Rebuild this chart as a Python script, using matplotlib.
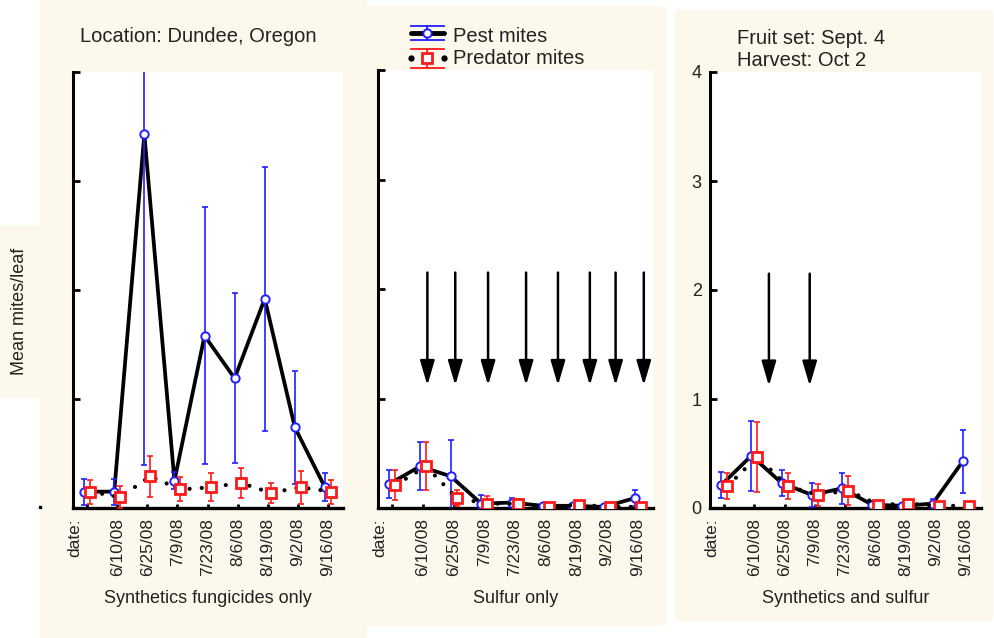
import matplotlib
matplotlib.use("Agg")
import matplotlib.pyplot as plt
import matplotlib.patches as mpatches
from matplotlib.lines import Line2D
import numpy as np

plt.rcParams["font.family"] = ["Liberation Sans", "DejaVu Sans"]

# sampling dates (first sample is the pre-treatment count)
date_labels = ["6/10/08", "6/25/08", "7/9/08", "7/23/08", "8/6/08",
               "8/19/08", "9/2/08", "9/16/08"]
n_samples = 9

# Synthetics fungicides only
pest_synth = [0.15, 0.15, 3.43, 0.25, 1.58, 1.19, 1.92, 0.74, 0.19]
pest_synth_err = [0.12, 0.12, 3.04, 0.08, 1.18, 0.78, 1.21, 0.52, 0.13]
pred_synth = [0.15, 0.10, 0.29, 0.17, 0.19, 0.23, 0.14, 0.19, 0.15]
pred_synth_err = [0.11, 0.10, 0.19, 0.11, 0.13, 0.14, 0.09, 0.15, 0.11]

# Sulfur only
pest_sulf = [0.22, 0.38, 0.29, 0.04, 0.05, 0.02, 0.02, 0.01, 0.09]
pest_sulf_err = [0.13, 0.22, 0.33, 0.08, 0.04, 0.01, 0.01, 0.01, 0.07]
pred_sulf = [0.21, 0.38, 0.09, 0.04, 0.04, 0.01, 0.03, 0.01, 0.01]
pred_sulf_err = [0.14, 0.22, 0.07, 0.07, 0.04, 0.01, 0.02, 0.01, 0.01]

# Synthetics and sulfur
pest_both = [0.21, 0.48, 0.23, 0.12, 0.18, 0.03, 0.02, 0.04, 0.43]
pest_both_err = [0.12, 0.32, 0.12, 0.11, 0.14, 0.03, 0.01, 0.04, 0.29]
pred_both = [0.20, 0.47, 0.20, 0.12, 0.16, 0.03, 0.04, 0.02, 0.02]
pred_both_err = [0.12, 0.32, 0.12, 0.10, 0.13, 0.02, 0.01, 0.01, 0.01]

# sulfur applications (arrows), in sample-index units
spray_sulf = [1.14, 2.05, 3.12, 4.36, 5.40, 6.44, 7.28, 8.20]
spray_both = [1.48, 2.83]
arrow_top, arrow_tip = 2.15, 1.12

CREAM = "#fdf8ec"
BLUE = "#1f1fff"
RED = "#ff1a1a"
TXT = "#222222"
W, H = 995, 638


def px_rect(fig, x0, y0, x1, y1):
    # cream backing panel given in pixel coords (origin top-left)
    r = mpatches.Rectangle((x0 / W, 1 - y1 / H), (x1 - x0) / W, (y1 - y0) / H,
                           transform=fig.transFigure, facecolor=CREAM,
                           edgecolor="none", zorder=-10)
    fig.patches.append(r)


def px_axes(fig, x0, y0, x1, y1):
    return fig.add_axes([x0 / W, 1 - y1 / H, (x1 - x0) / W, (y1 - y0) / H])


def draw_panel(ax, pest, pest_err, pred, pred_err, xlabel, show_yticks=False):
    x = np.arange(n_samples)
    xp = x - 0.1
    xq = x + 0.1
    # pest mites
    ax.plot(xp, pest, color="black", lw=2.7, zorder=2)
    ax.errorbar(xp, pest, yerr=pest_err, fmt="none", ecolor=BLUE, elinewidth=1.2,
                capsize=2.2, capthick=1.2, zorder=3)
    ax.plot(xp, pest, "o", ms=6, mfc="white", mec=BLUE, mew=1.4, zorder=4)
    # predator mites
    ax.plot(xq, pred, color="black", lw=3.0, zorder=5,
            linestyle=(0, (0.01, 2.9)), dash_capstyle="round")
    ax.errorbar(xq, pred, yerr=pred_err, fmt="none", ecolor=RED, elinewidth=1.2,
                capsize=2.2, capthick=1.2, zorder=6)
    ax.plot(xq, pred, "s", ms=7, mfc="white", mec=RED, mew=2.0, zorder=7)

    ax.set_xlim(-0.47, 8.5)
    ax.set_ylim(0, 4)
    ax.set_yticks([0, 1, 2, 3, 4])
    ax.set_xticks(x)
    ax.set_xticklabels([""] + date_labels, rotation=90, fontsize=12.5, color=TXT)
    ax.text(-0.4, -0.023, "date:", transform=ax.get_xaxis_transform(), rotation=90,
            ha="center", va="top", fontsize=12.5, color=TXT)
    ax.tick_params(axis="x", direction="in", length=3, width=2, pad=7)
    ax.tick_params(axis="y", direction="in", length=5, width=2, pad=6,
                   labelsize=13, labelcolor=TXT)
    if not show_yticks:
        ax.set_yticklabels([])
    for side in ("top", "right"):
        ax.spines[side].set_visible(False)
    ax.spines["left"].set_linewidth(2.2)
    ax.spines["bottom"].set_linewidth(2.4)
    ax.set_xlabel(xlabel, fontsize=13, color=TXT, labelpad=10)


def draw_sprays(ax, spray_x):
    for sx in spray_x:
        ax.annotate("", xy=(sx, arrow_tip), xytext=(sx, arrow_top),
                    arrowprops=dict(arrowstyle="-|>,head_length=0.75,head_width=0.22",
                                    color="black", lw=1.8, mutation_scale=20,
                                    shrinkA=0, shrinkB=0), zorder=8)


fig = plt.figure(figsize=(W / 100, H / 100), dpi=100)
fig.patch.set_facecolor("white")

px_rect(fig, 40, 0, 367, 638)
px_rect(fig, 0, 225, 40, 398)
px_rect(fig, 367, 6, 666, 626)
px_rect(fig, 675, 10, 993, 621)

ax1 = px_axes(fig, 73, 72, 343, 508)
ax2 = px_axes(fig, 378, 70, 653, 508)
ax3 = px_axes(fig, 710, 72, 981, 508)

draw_panel(ax1, pest_synth, pest_synth_err, pred_synth, pred_synth_err,
           "Synthetics fungicides only")
draw_panel(ax2, pest_sulf, pest_sulf_err, pred_sulf, pred_sulf_err, "Sulfur only")
draw_panel(ax3, pest_both, pest_both_err, pred_both, pred_both_err,
           "Synthetics and sulfur", show_yticks=True)
draw_sprays(ax2, spray_sulf)
draw_sprays(ax3, spray_both)

fig.text(20 / W, 1 - 311 / H, "Mean mites/leaf", rotation=90, ha="center",
         va="center", fontsize=13, color=TXT)
fig.text(198 / W, 1 - 36 / H, "Location: Dundee, Oregon", ha="center",
         va="center", fontsize=14.5, color=TXT)
fig.text(737 / W, 1 - 38 / H, "Fruit set: Sept. 4", ha="left", va="center",
         fontsize=14.5, color=TXT)
fig.text(737 / W, 1 - 60 / H, "Harvest: Oct 2", ha="left", va="center",
         fontsize=14.5, color=TXT)

# stray mark left of the first panel's baseline
fig.add_artist(Line2D([40 / W], [1 - 507 / H], lw=0, marker="s", ms=1.6, color="black"))


# legend, drawn by hand to get full-width caps
def fx(px):
    return px / W


def fy(py):
    return 1 - py / H


lx0, lx1, lxc = 411, 444, 427.5
for yc, ecol, mk, ms, mew, solid in [(33, BLUE, "o", 6, 1.4, True),
                                      (58, RED, "s", 7, 2.0, False)]:
    half = 7 if solid else 9.5
    for yy in (yc - half, yc + half):
        fig.add_artist(Line2D([fx(lx0), fx(lx1)], [fy(yy), fy(yy)], color=ecol, lw=1.3))
    fig.add_artist(Line2D([fx(lxc), fx(lxc)], [fy(yc - half), fy(yc + half)],
                          color=ecol, lw=1.3))
    if solid:
        fig.add_artist(Line2D([fx(lx0), fx(lx1)], [fy(yc), fy(yc)], color="black",
                              lw=3.5, solid_capstyle="round"))
    else:
        fig.add_artist(Line2D([fx(lx0), fx(lx1)], [fy(yc), fy(yc)], color="black",
                              lw=0, marker="o", ms=3.5))
    fig.add_artist(Line2D([fx(lxc)], [fy(yc)], lw=0, marker=mk, ms=ms, mfc="white",
                          mec=ecol, mew=mew))

fig.text(fx(453), fy(36), "Pest mites", ha="left", va="center", fontsize=14.5,
         color=TXT)
fig.text(fx(453), fy(59), "Predator mites", ha="left", va="center", fontsize=14.5,
         color=TXT)

fig.savefig("out.png", dpi=100)
